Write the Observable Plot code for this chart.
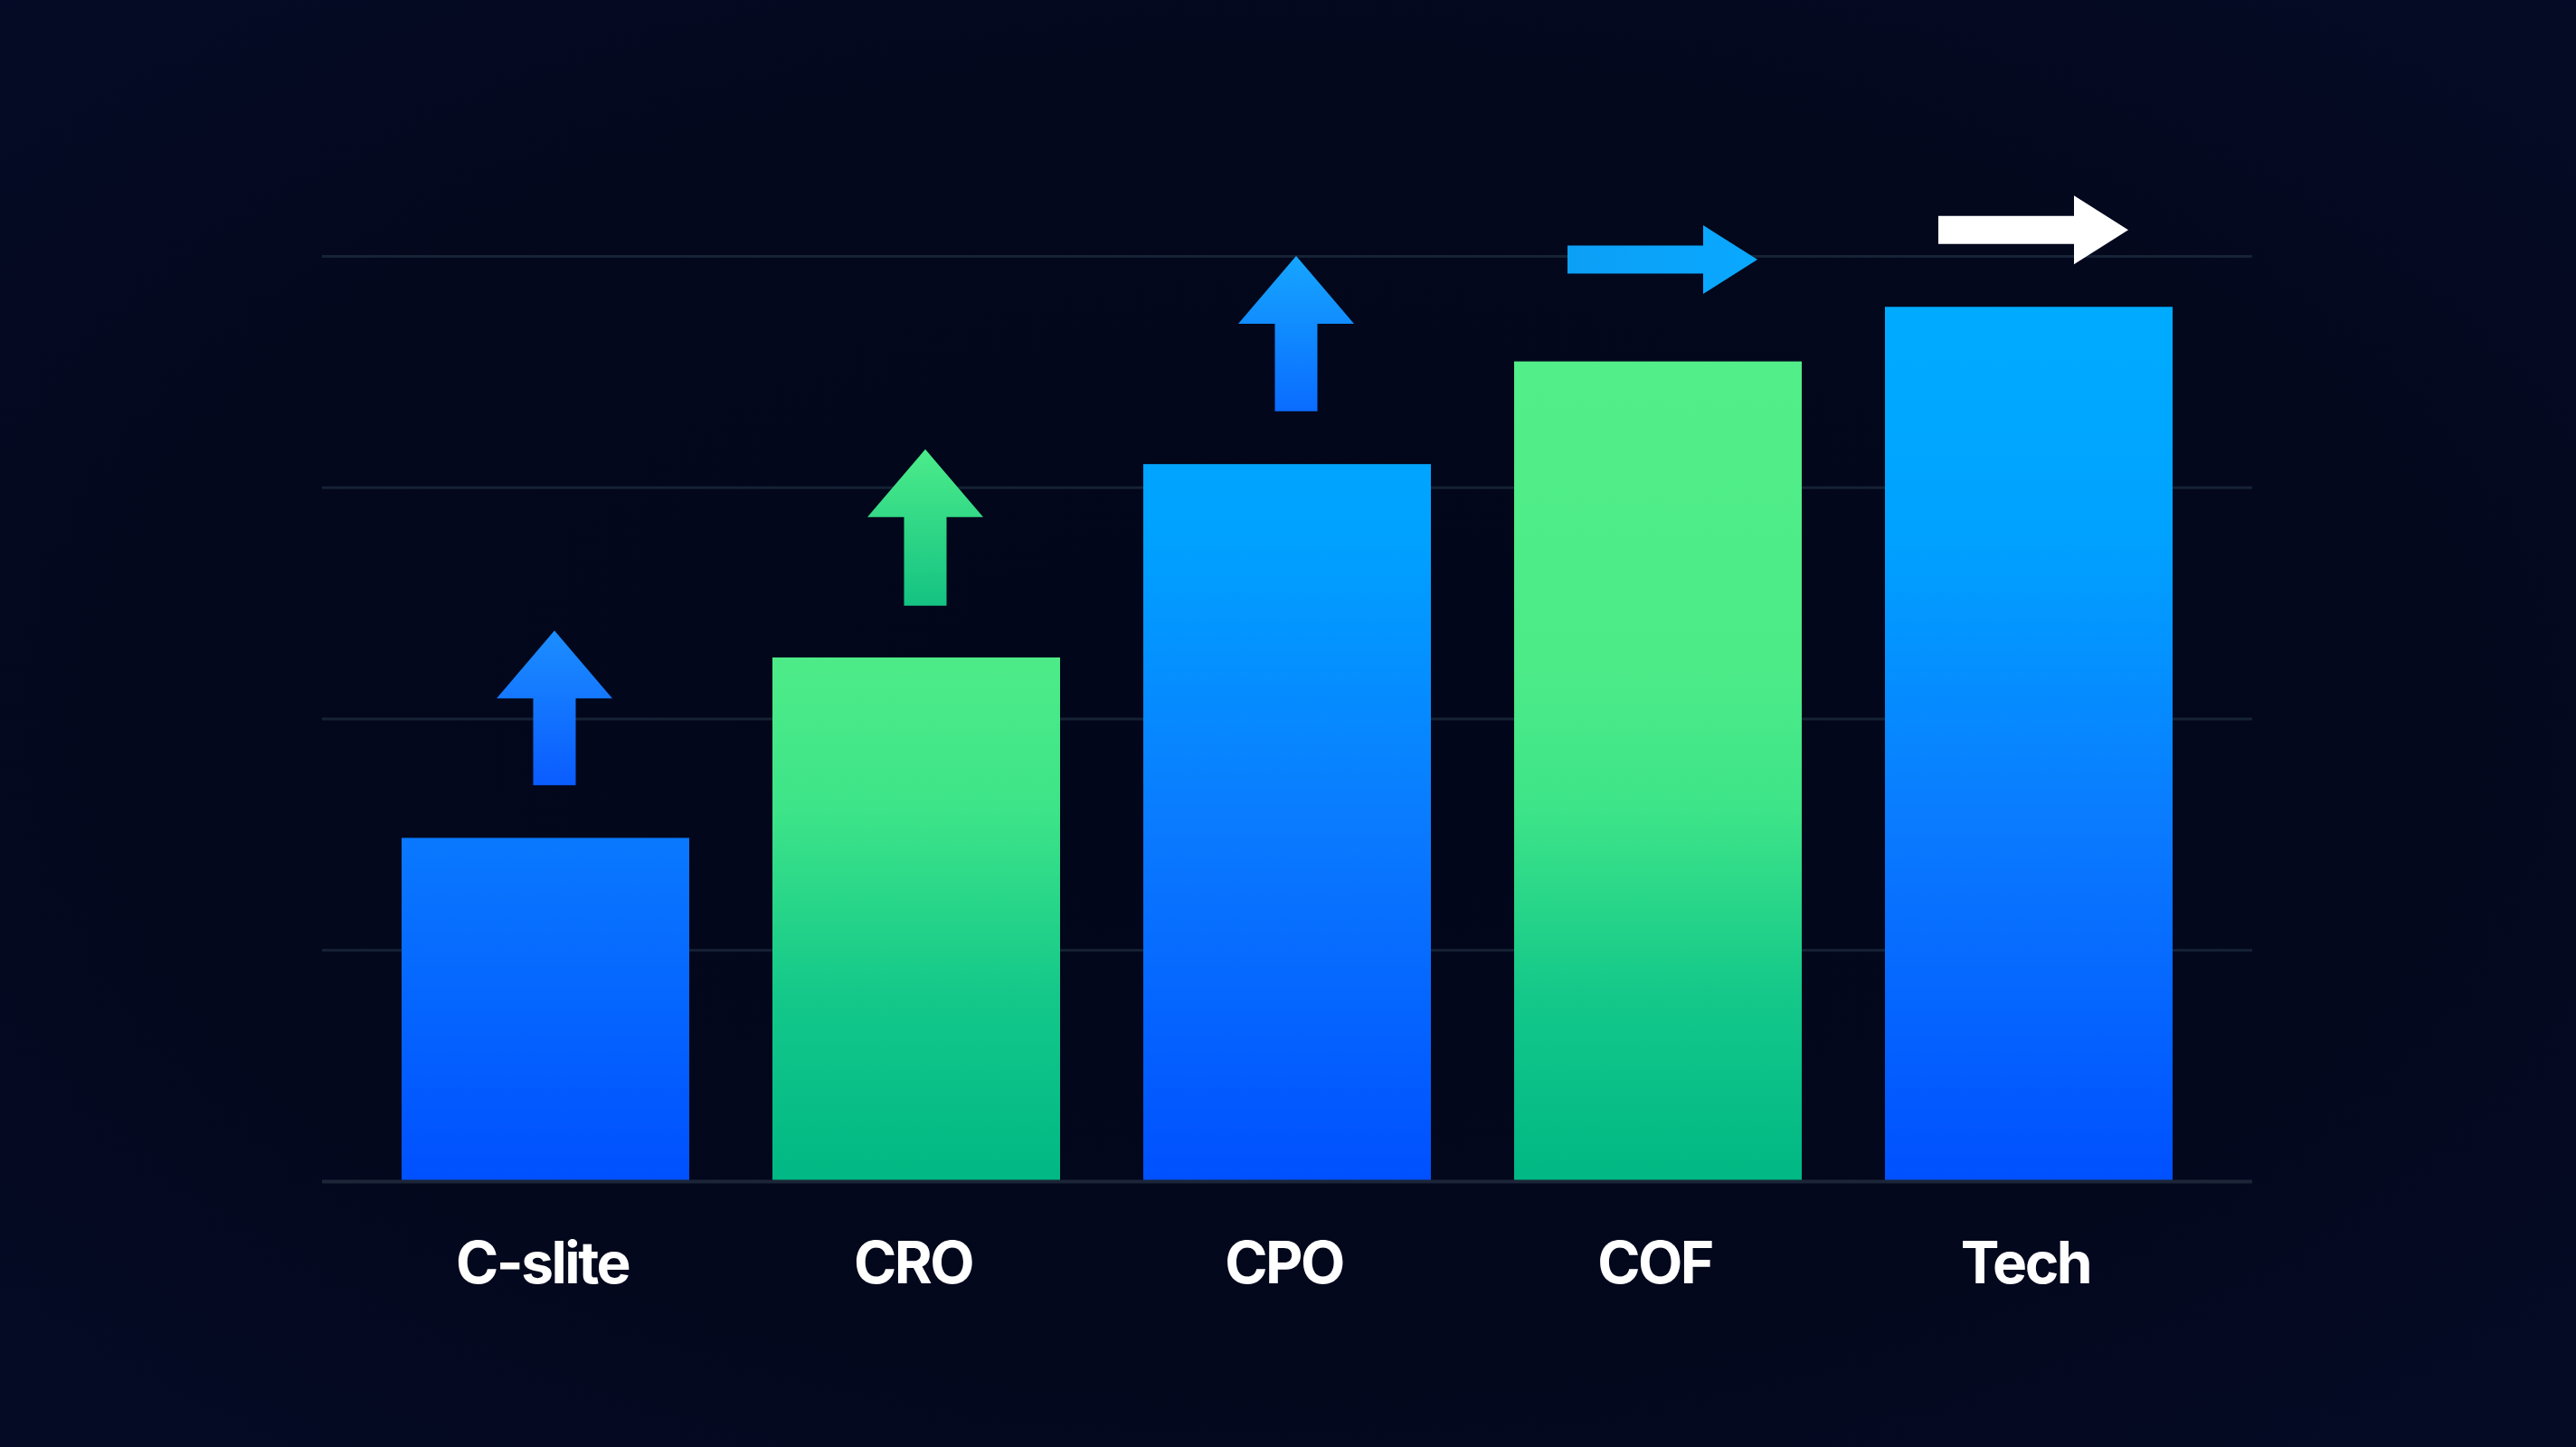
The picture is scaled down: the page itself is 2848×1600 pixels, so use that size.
<!DOCTYPE html>
<html>
<head>
<meta charset="utf-8">
<script src="https://cdn.jsdelivr.net/npm/d3@7"></script>
<script src="https://cdn.jsdelivr.net/npm/@observablehq/plot@0.6"></script>
<style>
  html, body { margin: 0; padding: 0; }
  body {
    width: 2848px; height: 1600px; overflow: hidden;
    background: radial-gradient(ellipse 75% 75% at 50% 50%, #02061a 0%, #03081d 60%, #060c28 100%);
  }
  #chart svg { display: block; }
  #chart svg text { letter-spacing: -2.5px; }
</style>
</head>
<body>
<div id="chart"></div>
<script>
// ---- data ----
const categories = ["C-slite", "CRO", "CPO", "COF", "Tech"];
const values = [37.1, 56.6, 77.5, 88.6, 94.5];
const tones = ["blue", "green", "blue", "green", "blue"];
const gridTicks = [25, 50, 75, 100];
const arrowDirections = ["up", "up", "up", "right", "right"];
const arrowStart = [42.8, 62.2, 83.2, 99.6, 102.8];
const arrowEnd = [59.5, 79.1, 100.0, 99.6, 102.8];

const bars = categories.map((c, i) => ({category: c, value: values[i], tone: tones[i]}));
const arrows = categories.map((c, i) => ({category: c, dir: arrowDirections[i], from: arrowStart[i], to: arrowEnd[i]}));

// ---- styles ----
const arrowGradients = [
  ["#1c8eff", "#0a5cff"],
  ["#4cec8a", "#14c282"],
  ["#16a6ff", "#0a6cff"],
  ["#0c9ff6", "#0aa8ff"],
  ["#ffffff", "#ffffff"]
];

const defsMark = (index, scales) => {
  const y = scales.y;
  const g = d3.create("svg:g");
  const defs = g.append("defs");
  const lin = (id, stops, attrs) => {
    const lg = defs.append("linearGradient").attr("id", id);
    for (const [k, v] of Object.entries(attrs)) lg.attr(k, v);
    stops.forEach(([o, c]) => lg.append("stop").attr("offset", o).attr("stop-color", c));
  };
  lin("barBlue", [[0, "#00aeff"], [0.3, "#00a2ff"], [0.62, "#0a7aff"], [1, "#0050ff"]],
      {gradientUnits: "userSpaceOnUse", x1: 0, x2: 0, y1: y(100), y2: y(0)});
  lin("barGreen", [[0, "#54ef8a"], [0.45, "#4ceb88"], [0.6, "#3de488"], [0.8, "#14c88a"], [1, "#00b884"]],
      {gradientUnits: "userSpaceOnUse", x1: 0, x2: 0, y1: y(100), y2: y(0)});
  arrowGradients.forEach(([a, b], i) => {
    const horiz = arrows[i].dir === "right";
    lin("arrowGrad" + i, [[0, a], [1, b]],
        horiz ? {x1: 0, x2: 1, y1: 0, y2: 0} : {x1: 0, x2: 0, y1: 0, y2: 1});
  });
  return g.node();
};

const arrowMark = (index, scales) => {
  const {x, y} = scales;
  const bw = x.bandwidth ? x.bandwidth() : 0;
  const g = d3.create("svg:g");
  arrows.forEach((a, i) => {
    const cx = x(a.category) + bw / 2;
    let p;
    if (a.dir === "up") {
      const c = cx + 10;
      const yb = y(a.from), yt = y(a.to);
      const hh = 75, hw = 64, sw = 23.5;
      p = `M${c - sw},${yb}L${c - sw},${yt + hh}L${c - hw},${yt + hh}L${c},${yt}L${c + hw},${yt + hh}L${c + sw},${yt + hh}L${c + sw},${yb}Z`;
    } else {
      const yc = y(a.from);
      const x0 = cx - 100, xt = cx + 110, hl = 60, hh = 38, sh = 15.5;
      p = `M${x0},${yc - sh}L${xt - hl},${yc - sh}L${xt - hl},${yc - hh}L${xt},${yc}L${xt - hl},${yc + hh}L${xt - hl},${yc + sh}L${x0},${yc + sh}Z`;
    }
    g.append("path").attr("d", p).attr("fill", `url(#arrowGrad${i})`);
  });
  return g.node();
};

const chart = Plot.plot({
  width: 2848,
  height: 1600,
  marginTop: 283,
  marginBottom: 294,
  marginLeft: 356,
  marginRight: 358,
  style: {background: "transparent", overflow: "visible", color: "#ffffff", fontFamily: "Inter, 'Noto Sans', sans-serif"},
  x: {domain: categories, paddingInner: 0.225, paddingOuter: 0.212, label: null},
  y: {domain: [0, 100], axis: null},
  marks: [
    defsMark,
    Plot.gridY(gridTicks, {stroke: "#162235", strokeOpacity: 1, strokeWidth: 3}),
    Plot.barY(bars.filter(d => d.tone === "blue"), {x: "category", y: "value", fill: "url(#barBlue)"}),
    Plot.barY(bars.filter(d => d.tone === "green"), {x: "category", y: "value", fill: "url(#barGreen)"}),
    Plot.ruleY([0], {stroke: "#1c2638", strokeWidth: 4}),
    arrowMark,
    Plot.axisX({tickSize: 0, tickPadding: 67, fontSize: 64, fontWeight: 700, fill: "#ffffff", dx: -4})
  ]
});
document.getElementById("chart").appendChild(chart);
</script>
</body>
</html>
